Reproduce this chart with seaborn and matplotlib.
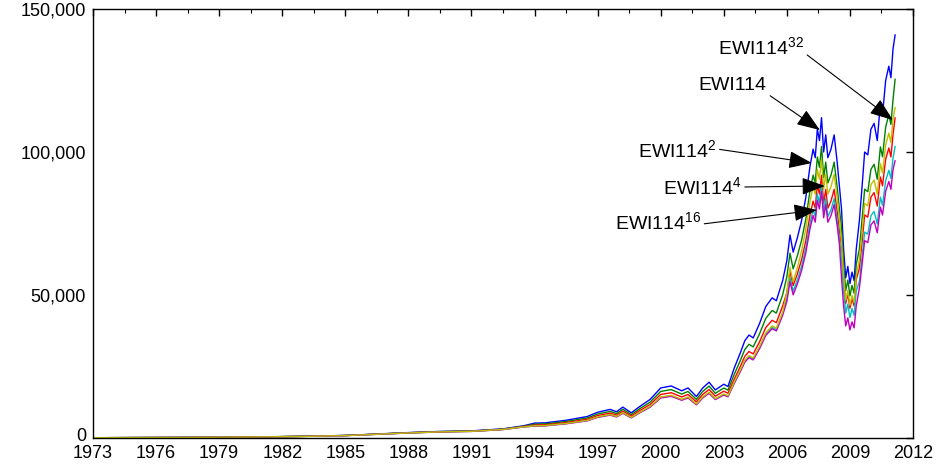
import matplotlib
matplotlib.use("Agg")
import matplotlib.pyplot as plt
import matplotlib.transforms as mtransforms
from matplotlib.ticker import FuncFormatter
import seaborn as sns
import pandas as pd

# decimal years
years = [1973.0, 1975.0, 1977.0, 1979.0, 1981.0, 1983.0, 1985.0, 1986.5, 1988.0, 1989.5,
         1991.0, 1992.5, 1993.5, 1994.0, 1994.5, 1995.5, 1996.5, 1997.0, 1997.6, 1997.9,
         1998.2, 1998.6, 1999.0, 1999.5, 2000.0, 2000.5, 2001.0, 2001.3, 2001.7, 2002.0,
         2002.3, 2002.6, 2003.0, 2003.2, 2003.5, 2003.8, 2004.0, 2004.2, 2004.4, 2004.7,
         2005.0, 2005.3, 2005.5, 2005.8, 2006.0, 2006.15, 2006.3, 2006.5, 2006.7, 2006.9,
         2007.1, 2007.25, 2007.35, 2007.45, 2007.55, 2007.65, 2007.75, 2007.85, 2007.95, 2008.1,
         2008.25, 2008.4, 2008.5, 2008.6, 2008.7, 2008.8, 2008.9, 2009.0, 2009.1, 2009.2,
         2009.3, 2009.45, 2009.6, 2009.7, 2009.85, 2010.0, 2010.15, 2010.3, 2010.45, 2010.55,
         2010.7, 2010.85, 2010.95, 2011.05, 2011.15]

ewi114 = [100, 150, 200, 300, 400, 600, 900, 1400, 1900, 2300,
          2500, 3200, 4300, 5200, 5300, 6200, 7500, 9000, 10000, 9200,
          10800, 8800, 11000, 13500, 17500, 18200, 16500, 17500, 14500, 17500,
          19500, 16800, 18800, 18000, 24500, 30000, 34000, 36000, 35000, 40000,
          46000, 49000, 48000, 55000, 62000, 71000, 65000, 70000, 76000, 84000,
          95000, 101000, 98000, 108000, 104000, 112000, 100000, 106000, 98000, 101000,
          106000, 96000, 88000, 80000, 66000, 56000, 60000, 54000, 58000, 55000,
          66000, 76000, 90000, 100000, 99000, 108000, 110000, 104000, 117000, 113000,
          125000, 130000, 126000, 136000, 141000]

ewi114_2 = [97, 146, 194, 291, 388, 582, 873, 1358, 1843, 2231,
            2425, 3100, 4130, 4840, 4930, 5770, 6980, 8370, 9300, 8560,
            10040, 8180, 10230, 12560, 16280, 16930, 15350, 16280, 13490, 16280,
            18140, 15620, 17480, 16740, 22300, 27300, 30940, 32760, 31850, 36400,
            41860, 44590, 43680, 50050, 56420, 64610, 59150, 63700, 69160, 76440,
            86450, 91910, 89180, 98280, 94640, 101920, 91000, 96460, 89180, 91910,
            96460, 87360, 80080, 73600, 60720, 51520, 55200, 49680, 53360, 50600,
            60720, 66120, 78300, 87000, 86130, 93960, 95700, 90480, 101790, 98310,
            108750, 113100, 109620, 118320, 125500]

ewi114_4 = [95, 143, 190, 285, 380, 570, 855, 1330, 1805, 2185,
            2375, 3040, 4040, 4520, 4610, 5390, 6530, 7830, 8700, 8000,
            9400, 7660, 9570, 11750, 15230, 15830, 14360, 15230, 12620, 15230,
            16970, 14620, 16360, 15660, 20580, 25200, 28560, 30240, 29400, 33600,
            38640, 41160, 40320, 46200, 50840, 58220, 53300, 57400, 62320, 68880,
            77900, 82820, 80360, 88560, 85280, 91840, 82000, 86920, 80360, 82820,
            86920, 78720, 72160, 67200, 55440, 47040, 50400, 45360, 48720, 46200,
            55440, 59280, 70200, 78000, 77220, 84240, 85800, 81120, 91260, 88140,
            97500, 101400, 98280, 106080, 112000]

ewi114_8 = [93, 140, 186, 279, 372, 558, 837, 1302, 1767, 2139,
            2325, 2980, 3910, 4210, 4290, 5020, 6080, 7290, 8100, 7450,
            8750, 7130, 8910, 10940, 14180, 14740, 13370, 14180, 11750, 14180,
            15800, 13610, 15230, 14580, 19360, 23700, 26860, 28440, 27650, 31600,
            36340, 38710, 37920, 43450, 48980, 56090, 51350, 55300, 60040, 66360,
            75050, 79790, 77420, 85320, 82160, 88480, 79000, 83740, 77420, 79790,
            83740, 75840, 69520, 62400, 51480, 43680, 46800, 42120, 45240, 42900,
            51480, 54720, 64800, 72000, 71280, 77760, 79200, 74880, 84240, 81360,
            90000, 93600, 90720, 97920, 102000]

ewi114_16 = [92, 138, 184, 276, 368, 552, 828, 1288, 1748, 2116,
             2300, 2940, 3870, 4160, 4240, 4960, 6000, 7200, 8000, 7360,
             8640, 7040, 8800, 10800, 14000, 14560, 13200, 14000, 11600, 14000,
             15600, 13440, 15040, 14400, 19110, 23400, 26520, 28080, 27300, 31200,
             35880, 38220, 37440, 42900, 47740, 54670, 50050, 53900, 58520, 64680,
             73150, 77770, 75460, 83160, 80080, 86240, 77000, 81620, 75460, 77770,
             81620, 73920, 67760, 56000, 46200, 39200, 42000, 37800, 40600, 38500,
             46200, 52440, 62100, 69000, 68310, 74520, 75900, 71760, 80730, 77970,
             86250, 89700, 86940, 93840, 97000]

ewi114_32 = [93, 140, 186, 279, 372, 558, 837, 1302, 1767, 2139,
             2325, 2980, 3910, 4260, 4350, 5080, 6150, 7380, 8200, 7540,
             8860, 7220, 9020, 11070, 14350, 14920, 13530, 14350, 11890, 14350,
             15990, 13780, 15420, 14760, 19600, 24000, 27200, 28800, 28000, 32000,
             36800, 39200, 38400, 44000, 50840, 59640, 54600, 59500, 65360, 73080,
             82650, 87870, 85260, 93960, 90480, 97440, 87000, 92220, 85260, 87870,
             92220, 83520, 76560, 68800, 56760, 48160, 51600, 46440, 49880, 47300,
             56760, 62320, 73800, 82000, 81180, 88560, 90200, 85280, 95940, 92660,
             102500, 106600, 103320, 111520, 115600]

series = {
    "EWI114": ewi114,
    "EWI114^2": ewi114_2,
    "EWI114^4": ewi114_4,
    "EWI114^8": ewi114_8,
    "EWI114^16": ewi114_16,
    "EWI114^32": ewi114_32,
}
# MATLAB default colour order b, g, r, c, m, y
palette = {
    "EWI114": (0, 0, 1),
    "EWI114^2": (0, 0.5, 0),
    "EWI114^4": (1, 0, 0),
    "EWI114^8": (0, 0.75, 0.75),
    "EWI114^16": (0.75, 0, 0.75),
    "EWI114^32": (0.75, 0.75, 0),
}

year_ticks = list(range(1973, 2013, 3))
minor_ticks = [y + 1.5 for y in year_ticks[:-1]]

rows = []
for name, vals in series.items():
    for x, v in zip(years, vals):
        rows.append({"year": x, "value": v, "series": name})
df = pd.DataFrame(rows)

sns.set_theme(style="white")
plt.rcParams["font.family"] = ["Liberation Sans", "DejaVu Sans"]
plt.rcParams["mathtext.fontset"] = "custom"
plt.rcParams["mathtext.rm"] = "Liberation Sans"
plt.rcParams["mathtext.it"] = "Liberation Sans"

fig = plt.figure(figsize=(9.42, 4.69), dpi=100)
ax = fig.add_axes([93 / 942, 1 - 438 / 469, 820 / 942, 429 / 469])

sns.lineplot(data=df, x="year", y="value", hue="series", palette=palette,
             hue_order=list(series.keys()), estimator=None, sort=False,
             linewidth=1.0, legend=False, ax=ax)

ax.set_xlim(1973, 2012)
ax.set_ylim(0, 150000)
ax.set_xlabel("")
ax.set_ylabel("")
ax.set_xticks(year_ticks)
ax.set_xticks(minor_ticks, minor=True)
ax.set_yticks([0, 50000, 100000, 150000])
ax.yaxis.set_major_formatter(FuncFormatter(lambda v, p: f"{int(v):,}"))
ax.xaxis.set_major_formatter(FuncFormatter(lambda v, p: f"{int(round(v))}"))
ax.tick_params(which="both", direction="in", top=True, right=True, color="black",
               labelsize=13, labelcolor="black")
ax.tick_params(axis="x", pad=5)
ax.tick_params(axis="y", pad=5)
ax.tick_params(which="major", length=5, width=1)
ax.tick_params(which="minor", length=3, width=0.8)
for s in ax.spines.values():
    s.set_color("black")
    s.set_linewidth(1.0)

# the "0" label sits a little above the bottom axis, as in the original
zero_lab = ax.get_yticklabels()[0]
zero_lab.set_transform(zero_lab.get_transform() +
                       mtransforms.ScaledTranslation(0, 4 / 100, fig.dpi_scale_trans))

def px_year(px):
    return 1973 + (px - 93) / 21.03

def py_val(py):
    return (438 - py) * 349.65

arrow = dict(arrowstyle="-|>,head_length=0.8,head_width=0.3", mutation_scale=18,
             color="black", lw=0.8, shrinkA=0, shrinkB=0)

labels = [
    (r"EWI114$^{32}$", 718, 47, 893, 120, (1.0, 0.25)),
    ("EWI114", 699, 85, 820, 130, (1.0, 0.0)),
    (r"EWI114$^{2}$", 638, 150, 812, 163, (1.0, 0.55)),
    (r"EWI114$^{4}$", 663, 187, 825, 186, (1.0, 0.5)),
    (r"EWI114$^{16}$", 615, 222, 817, 210, (1.0, 0.4)),
]
for text, tx, ty, ax_, ay, rel in labels:
    props = dict(arrow)
    props["relpos"] = rel
    ax.annotate(text, xy=(px_year(ax_), py_val(ay)), xytext=(px_year(tx), py_val(ty)),
                ha="left", va="center", fontsize=14, color="black",
                arrowprops=props)

fig.savefig("out.png", dpi=100, facecolor="white")
